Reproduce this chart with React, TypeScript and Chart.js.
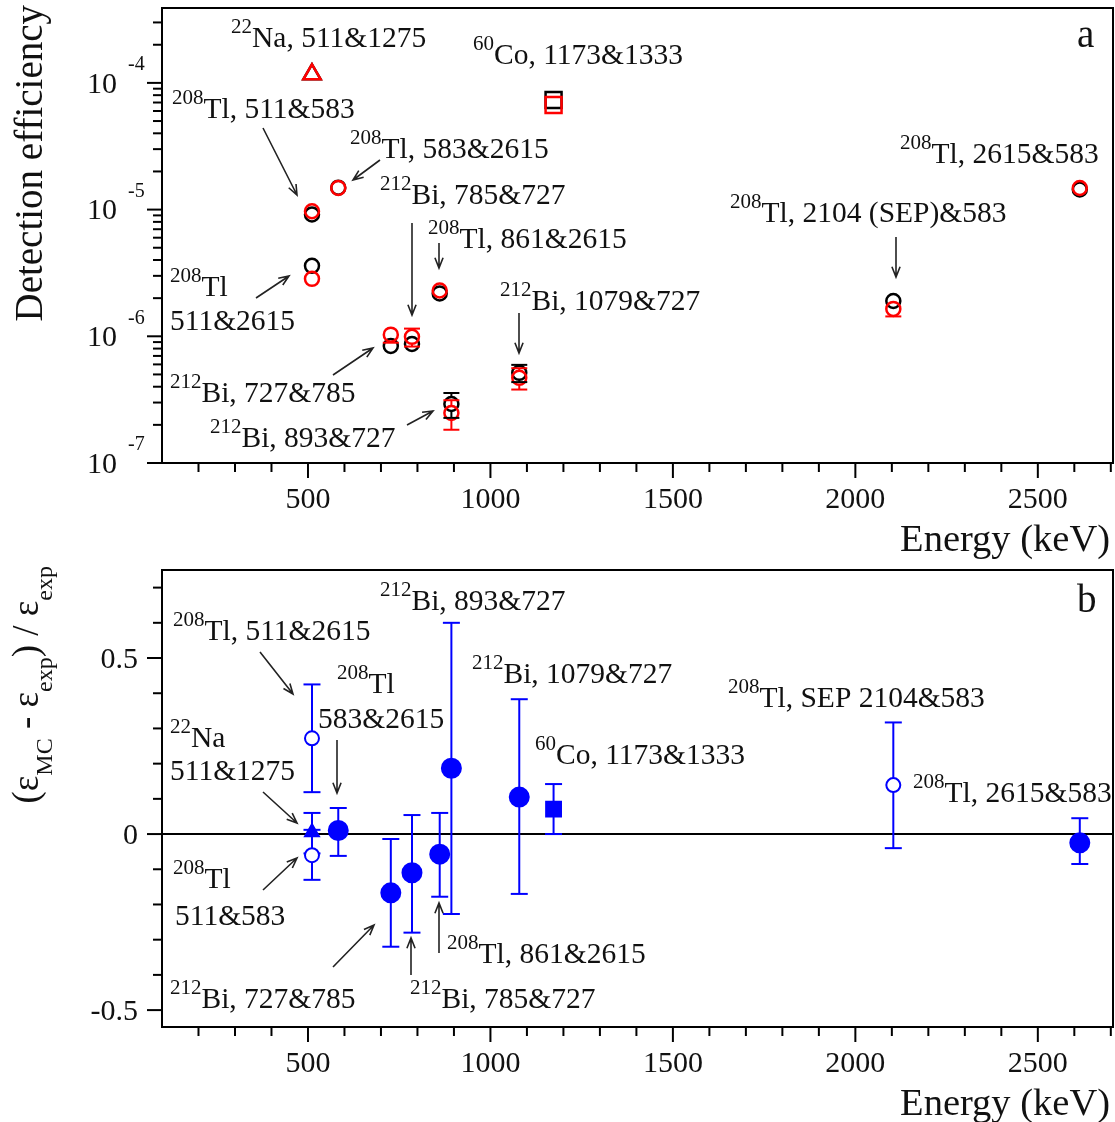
import React, { useEffect, useRef } from "react";
import { Chart, registerables } from "chart.js";

Chart.register(...registerables);

const W = 1115;
const H = 1122;
const FONT = '"Liberation Serif", "Times New Roman", serif';
const INK = "#111";
const RED = "#ff0000";
const BLUE = "#0000ff";

// Gamma-gamma coincidence transitions, energy of the first gamma (keV)
const energies = [511, 1173, 511, 583, 511, 727, 785, 861, 893, 1079, 2104, 2615];
const transitions = [
  "22Na 511&1275",
  "60Co 1173&1333",
  "208Tl 511&583",
  "208Tl 583&2615",
  "208Tl 511&2615",
  "212Bi 727&785",
  "212Bi 785&727",
  "208Tl 861&2615",
  "212Bi 893&727",
  "212Bi 1079&727",
  "208Tl 2104(SEP)&583",
  "208Tl 2615&583",
];
// marker shape per transition
const markerKinds = ["triangle", "rect", "circle", "circle", "circle", "circle", "circle", "circle", "circle", "circle", "circle", "circle"];
// open marker in the relative-difference panel
const openMarker = [false, false, true, false, true, false, false, false, false, false, true, false];

// Detection efficiency: experiment (red) and Monte Carlo (black)
const effExp = [1.17e-4, 6.7e-5, 9.7e-6, 1.48e-5, 2.84e-6, 1.03e-6, 9.9e-7, 2.3e-6, 2.48e-7, 4.7e-7, 1.645e-6, 1.48e-5];
const effExpErr = [2e-6, 1.5e-6, 2.5e-7, 4e-7, 1e-7, 1.4e-7, 1.6e-7, 6e-8, 6.5e-8, 9e-8, 2.1e-7, 4e-7];
const effMC = [1.17e-4, 7.34e-5, 9.15e-6, 1.49e-5, 3.6e-6, 8.4e-7, 8.7e-7, 2.18e-6, 2.92e-7, 5.15e-7, 1.9e-6, 1.44e-5];
const effMCErr = [1e-6, 1e-6, 1e-7, 1.5e-7, 5e-8, 2e-8, 2e-8, 3e-8, 6.5e-8, 8e-8, 5e-8, 1.5e-7];

// (eps_MC - eps_exp) / eps_exp with its error interval
const relDiff = [0.005, 0.071, -0.06, 0.01, 0.272, -0.167, -0.11, -0.057, 0.187, 0.105, 0.139, -0.025];
const relDiffHi = [0.06, 0.142, 0.012, 0.074, 0.425, -0.014, 0.054, 0.06, 0.6, 0.383, 0.317, 0.045];
const relDiffLo = [-0.055, 0.0, -0.13, -0.062, 0.119, -0.32, -0.28, -0.178, -0.227, -0.17, -0.04, -0.085];

// axis ticks
const xMajorTicks = [500, 1000, 1500, 2000, 2500];
const effDecades = [-7, -6, -5, -4];
const relMajorTicks = [-0.5, 0, 0.5];

// text labels: [x, baseline y, text] on the page, ^{..} superscript, _{..} subscript
const topLabels: [number, number, string][] = [
  [231, 47, "^{22}Na, 511&1275"],
  [473, 64, "^{60}Co, 1173&1333"],
  [172, 118, "^{208}Tl, 511&583"],
  [350, 158, "^{208}Tl, 583&2615"],
  [380, 204, "^{212}Bi, 785&727"],
  [428, 248, "^{208}Tl, 861&2615"],
  [500, 310, "^{212}Bi, 1079&727"],
  [170, 296, "^{208}Tl"],
  [170, 330, "511&2615"],
  [170, 402, "^{212}Bi, 727&785"],
  [210, 447, "^{212}Bi, 893&727"],
  [900, 163, "^{208}Tl, 2615&583"],
  [730, 222, "^{208}Tl, 2104 (SEP)&583"],
];
const topArrows: [number, number, number, number][] = [
  [263, 128, 297, 195],
  [380, 160, 353, 180],
  [412, 223, 412, 315],
  [439, 243, 439, 268],
  [519, 313, 519, 353],
  [256, 298, 289, 276],
  [333, 375, 373, 348],
  [407, 425, 433, 411],
  [896, 237, 896, 277],
];
const bottomLabels: [number, number, string][] = [
  [380, 610, "^{212}Bi, 893&727"],
  [173, 640, "^{208}Tl, 511&2615"],
  [337, 693, "^{208}Tl"],
  [318, 728, "583&2615"],
  [170, 747, "^{22}Na"],
  [170, 780, "511&1275"],
  [472, 683, "^{212}Bi, 1079&727"],
  [535, 764, "^{60}Co, 1173&1333"],
  [728, 707, "^{208}Tl, SEP 2104&583"],
  [913, 802, "^{208}Tl, 2615&583"],
  [173, 888, "^{208}Tl"],
  [175, 925, "511&583"],
  [170, 1008, "^{212}Bi, 727&785"],
  [410, 1008, "^{212}Bi, 785&727"],
  [447, 963, "^{208}Tl, 861&2615"],
];
const bottomArrows: [number, number, number, number][] = [
  [260, 652, 293, 694],
  [337, 740, 337, 793],
  [263, 792, 297, 823],
  [263, 890, 297, 858],
  [333, 967, 374, 925],
  [411, 975, 411, 938],
  [439, 953, 439, 903],
];

type RichStyle = { main: number; small: number; raise: number; lower: number };
const LABEL_STYLE: RichStyle = { main: 29.5, small: 21, raise: 14, lower: 10 };
const EFF_TITLE_STYLE: RichStyle = { main: 39, small: 27, raise: 16, lower: 14 };
const REL_TITLE_STYLE: RichStyle = { main: 37, small: 24, raise: 16, lower: 14 };

function splitRich(text: string) {
  return text.split(/(\^\{[^}]*\}|_\{[^}]*\})/).filter((p) => p.length > 0);
}

function measureRich(ctx: CanvasRenderingContext2D, text: string, st: RichStyle) {
  let w = 0;
  for (const p of splitRich(text)) {
    if (p.startsWith("^{") || p.startsWith("_{")) {
      ctx.font = `${st.small}px ${FONT}`;
      w += ctx.measureText(p.slice(2, -1)).width;
    } else {
      ctx.font = `${st.main}px ${FONT}`;
      w += ctx.measureText(p).width;
    }
  }
  return w;
}

function drawRich(ctx: CanvasRenderingContext2D, text: string, x: number, y: number, st: RichStyle) {
  let cx = x;
  ctx.textAlign = "left";
  ctx.textBaseline = "alphabetic";
  ctx.fillStyle = INK;
  for (const p of splitRich(text)) {
    if (p.startsWith("^{") || p.startsWith("_{")) {
      const t = p.slice(2, -1);
      ctx.font = `${st.small}px ${FONT}`;
      ctx.fillText(t, cx, p[0] === "^" ? y - st.raise : y + st.lower);
      cx += ctx.measureText(t).width;
    } else {
      ctx.font = `${st.main}px ${FONT}`;
      ctx.fillText(p, cx, y);
      cx += ctx.measureText(p).width;
    }
  }
}

function drawArrow(ctx: CanvasRenderingContext2D, a: [number, number, number, number]) {
  const [x1, y1, x2, y2] = a;
  ctx.save();
  ctx.strokeStyle = "#222";
  ctx.lineWidth = 1.6;
  ctx.beginPath();
  ctx.moveTo(x1, y1);
  ctx.lineTo(x2, y2);
  const ang = Math.atan2(y2 - y1, x2 - x1);
  const h = 11;
  const s = 0.38;
  ctx.moveTo(x2 - h * Math.cos(ang - s), y2 - h * Math.sin(ang - s));
  ctx.lineTo(x2, y2);
  ctx.lineTo(x2 - h * Math.cos(ang + s), y2 - h * Math.sin(ang + s));
  ctx.stroke();
  ctx.restore();
}

function line(ctx: CanvasRenderingContext2D, x1: number, y1: number, x2: number, y2: number) {
  ctx.beginPath();
  ctx.moveTo(x1, y1);
  ctx.lineTo(x2, y2);
  ctx.stroke();
}

function drawFrameAndXAxis(chart: any, labelBaseline: number, titleBaseline: number) {
  const ctx: CanvasRenderingContext2D = chart.ctx;
  const a = chart.chartArea;
  const xs = chart.scales.x;
  ctx.save();
  ctx.strokeStyle = "#000";
  ctx.lineWidth = 2;
  ctx.strokeRect(a.left, a.top, a.right - a.left, a.bottom - a.top);
  for (let v = 200; v <= 2700; v += 100) {
    const px = xs.getPixelForValue(v);
    line(ctx, px, a.bottom, px, a.bottom + (v % 500 === 0 ? 15 : 9));
  }
  ctx.fillStyle = INK;
  ctx.font = `30px ${FONT}`;
  ctx.textAlign = "center";
  ctx.textBaseline = "alphabetic";
  for (const v of xMajorTicks) ctx.fillText(String(v), xs.getPixelForValue(v), labelBaseline);
  ctx.font = `38.5px ${FONT}`;
  ctx.textAlign = "right";
  ctx.fillText("Energy (keV)", 1110, titleBaseline);
  ctx.restore();
}

function drawVerticalTitle(
  ctx: CanvasRenderingContext2D,
  text: string,
  baselineX: number,
  endY: number,
  st: RichStyle
) {
  const w = measureRich(ctx, text, st);
  ctx.save();
  ctx.translate(baselineX, endY + w);
  ctx.rotate(-Math.PI / 2);
  drawRich(ctx, text, 0, 0, st);
  ctx.restore();
}

// Vertical error bars; the part hidden by a marker of radius `gap` is skipped
function drawErrorBars(
  chart: any,
  values: number[],
  lo: number[],
  hi: number[],
  color: string,
  width: number,
  cap: number,
  gap: number
) {
  const ctx: CanvasRenderingContext2D = chart.ctx;
  const xs = chart.scales.x;
  const ys = chart.scales.y;
  ctx.save();
  ctx.strokeStyle = color;
  ctx.lineWidth = width;
  energies.forEach((e, i) => {
    const px = xs.getPixelForValue(e);
    const pc = ys.getPixelForValue(values[i]);
    for (const end of [lo[i], hi[i]]) {
      const pe = ys.getPixelForValue(end);
      const d = pe - pc;
      if (Math.abs(d) <= gap) continue;
      line(ctx, px, pc + Math.sign(d) * gap, px, pe);
      line(ctx, px - cap, pe, px + cap, pe);
    }
  });
  ctx.restore();
}

const effRadius = (k: string) => (k === "circle" ? 7 : k === "triangle" ? 10 : 11.3);
const relRadius = (k: string, open: boolean) =>
  k === "circle" ? (open ? 7 : 9.5) : k === "triangle" ? 8 : 10.5;

function efficiencyConfig(): any {
  const effPlugin = {
    id: "effDecor",
    afterDatasetsDraw(chart: any) {
      drawErrorBars(
        chart,
        effMC,
        effMC.map((v, i) => v - effMCErr[i]),
        effMC.map((v, i) => v + effMCErr[i]),
        "#000",
        2,
        8,
        7.5
      );
      drawErrorBars(
        chart,
        effExp,
        effExp.map((v, i) => v - effExpErr[i]),
        effExp.map((v, i) => v + effExpErr[i]),
        RED,
        2,
        8,
        7.5
      );
    },
    afterDraw(chart: any) {
      const ctx: CanvasRenderingContext2D = chart.ctx;
      const a = chart.chartArea;
      const ys = chart.scales.y;
      drawFrameAndXAxis(chart, 508, 551);
      ctx.save();
      ctx.strokeStyle = "#000";
      ctx.lineWidth = 2;
      for (const d of effDecades) {
        for (let k = 1; k <= 9; k++) {
          const v = k * Math.pow(10, d);
          if (v > ys.max) break;
          const py = ys.getPixelForValue(v);
          line(ctx, a.left - (k === 1 ? 15 : 9), py, a.left, py);
        }
        const py = ys.getPixelForValue(Math.pow(10, d));
        ctx.fillStyle = INK;
        ctx.textBaseline = "middle";
        ctx.textAlign = "right";
        ctx.font = `30px ${FONT}`;
        ctx.fillText("10", 117, py + 2);
        ctx.textAlign = "left";
        ctx.font = `20px ${FONT}`;
        ctx.fillText(String(d), 128, py - 18);
      }
      ctx.restore();
      drawVerticalTitle(ctx, "Detection efficiency", 42, 5, EFF_TITLE_STYLE);
      for (const [x, y, t] of topLabels) drawRich(ctx, t, x, y, LABEL_STYLE);
      topArrows.forEach((ar) => drawArrow(ctx, ar));
      ctx.save();
      ctx.fillStyle = INK;
      ctx.font = `39px ${FONT}`;
      ctx.textAlign = "left";
      ctx.fillText("a", 1077, 47);
      ctx.restore();
    },
  };
  return {
    type: "scatter",
    data: {
      datasets: [
        {
          label: "Experiment",
          data: energies.map((e, i) => ({ x: e, y: effExp[i] })),
          pointStyle: markerKinds,
          pointRadius: markerKinds.map(effRadius),
          pointBorderColor: RED,
          pointBackgroundColor: "rgba(0,0,0,0)",
          pointBorderWidth: 2.5,
        },
        {
          label: "Monte Carlo",
          data: energies.map((e, i) => ({ x: e, y: effMC[i] })),
          pointStyle: markerKinds,
          pointRadius: markerKinds.map(effRadius),
          pointBorderColor: "#000",
          pointBackgroundColor: "rgba(0,0,0,0)",
          pointBorderWidth: 2.5,
        },
      ],
    },
    options: {
      responsive: false,
      animation: false,
      events: [],
      layout: { autoPadding: false, padding: { left: 162, right: 2, top: 8, bottom: H - 463 } },
      plugins: { legend: { display: false }, tooltip: { enabled: false } },
      scales: {
        x: { type: "linear", min: 100, max: 2706, display: false },
        y: { type: "logarithmic", min: 1e-7, max: 3.9e-4, display: false },
      },
    },
    plugins: [effPlugin],
  };
}

function relDiffConfig(): any {
  const relPlugin = {
    id: "relDecor",
    beforeDatasetsDraw(chart: any) {
      const ctx: CanvasRenderingContext2D = chart.ctx;
      const a = chart.chartArea;
      const py = chart.scales.y.getPixelForValue(0);
      ctx.save();
      ctx.strokeStyle = "#000";
      ctx.lineWidth = 2;
      line(ctx, a.left, py, a.right, py);
      ctx.restore();
      drawErrorBars(chart, relDiff, relDiffLo, relDiffHi, BLUE, 2, 8.5, 0);
    },
    afterDraw(chart: any) {
      const ctx: CanvasRenderingContext2D = chart.ctx;
      const a = chart.chartArea;
      const ys = chart.scales.y;
      drawFrameAndXAxis(chart, 1072, 1115);
      ctx.save();
      ctx.strokeStyle = "#000";
      ctx.lineWidth = 2;
      for (let i = -5; i <= 7; i++) {
        const v = i / 10;
        const py = ys.getPixelForValue(v);
        line(ctx, a.left - (i % 5 === 0 ? 15 : 9), py, a.left, py);
      }
      ctx.fillStyle = INK;
      ctx.font = `30px ${FONT}`;
      ctx.textAlign = "right";
      ctx.textBaseline = "middle";
      for (const v of relMajorTicks) ctx.fillText(String(v), 138, ys.getPixelForValue(v) + 2);
      ctx.restore();
      drawVerticalTitle(ctx, "(\u03b5_{MC} - \u03b5_{exp}) / \u03b5_{exp}", 38, 566, REL_TITLE_STYLE);
      for (const [x, y, t] of bottomLabels) drawRich(ctx, t, x, y, LABEL_STYLE);
      bottomArrows.forEach((ar) => drawArrow(ctx, ar));
      ctx.save();
      ctx.fillStyle = INK;
      ctx.font = `39px ${FONT}`;
      ctx.textAlign = "left";
      ctx.fillText("b", 1077, 612);
      ctx.restore();
    },
  };
  return {
    type: "scatter",
    data: {
      datasets: [
        {
          label: transitions.join(", "),
          data: energies.map((e, i) => ({ x: e, y: relDiff[i] })),
          pointStyle: markerKinds,
          pointRadius: markerKinds.map((k, i) => relRadius(k, openMarker[i])),
          pointBorderColor: BLUE,
          pointBackgroundColor: openMarker.map((o) => (o ? "#ffffff" : BLUE)),
          pointBorderWidth: 2,
        },
      ],
    },
    options: {
      responsive: false,
      animation: false,
      events: [],
      layout: { autoPadding: false, padding: { left: 162, right: 2, top: 570, bottom: H - 1027 } },
      plugins: { legend: { display: false }, tooltip: { enabled: false } },
      scales: {
        x: { type: "linear", min: 100, max: 2706, display: false },
        y: { type: "linear", min: -0.548, max: 0.75, display: false },
      },
    },
    plugins: [relPlugin],
  };
}

export default function App() {
  const topRef = useRef<HTMLCanvasElement>(null);
  const bottomRef = useRef<HTMLCanvasElement>(null);

  useEffect(() => {
    const effChart = new Chart(topRef.current as HTMLCanvasElement, efficiencyConfig());
    const relChart = new Chart(bottomRef.current as HTMLCanvasElement, relDiffConfig());
    return () => {
      effChart.destroy();
      relChart.destroy();
    };
  }, []);

  return (
    <div style={{ position: "absolute", left: 0, top: 0, width: W, height: H, background: "#fff" }}>
      <canvas ref={topRef} width={W} height={H} style={{ position: "absolute", left: 0, top: 0 }} />
      <canvas ref={bottomRef} width={W} height={H} style={{ position: "absolute", left: 0, top: 0 }} />
    </div>
  );
}
